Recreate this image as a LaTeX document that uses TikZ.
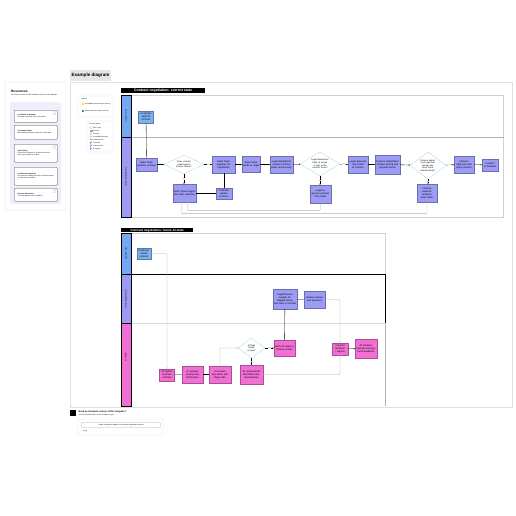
\documentclass[tikz,border=0pt]{standalone}
\usepackage{fontspec}
\setmainfont{Liberation Sans}
\usetikzlibrary{shapes.geometric,arrows.meta}

\definecolor{laneblue}{HTML}{72A9F2}
\definecolor{lanepurple}{HTML}{9D99F4}
\definecolor{lanepink}{HTML}{F36ED4}
\definecolor{nodeblue}{HTML}{7DB0F0}
\definecolor{nodepurple}{HTML}{9C9CF6}
\definecolor{nodepink}{HTML}{F26FD3}
\definecolor{dashblue}{HTML}{8FCDF2}
\definecolor{yesgreen}{HTML}{3DAA3D}
\definecolor{nored}{HTML}{D93030}
\definecolor{lavender}{HTML}{EFEFFC}
\definecolor{panelgray}{HTML}{E6E6E6}

\tikzset{
  txt/.style={font=\fontsize{3.5}{4.3}\selectfont},
  small/.style={font=\fontsize{2.4}{3}\selectfont},
  wh/.style 2 args={minimum width=#1*0.05cm, minimum height=#2*0.05cm, text width=#1*0.05cm-2pt},
  dwh/.style 2 args={minimum width=#1*0.05cm, minimum height=#2*0.05cm, text width=#1*0.024cm},
  proc/.style={rectangle, draw=#1!70!black, fill=#1, line width=0.35pt, align=center, inner sep=0.6pt, txt},
  ask/.style={diamond, draw=dashblue, dash pattern=on 1pt off 0.6pt, fill=white, line width=0.45pt,
    align=center, inner sep=0pt, font=\fontsize{3.1}{3.7}\selectfont},
  back/.style={draw=gray!60, line width=0.6pt, rounded corners=1.5pt, -{Stealth[length=1.8pt,width=1.8pt]}},
  yes/.style={small, text=yesgreen, fill=white, inner sep=0.2pt},
  no/.style={small, text=nored, fill=white, inner sep=0.2pt},
  lane/.style={draw=black, line width=0.4pt, fill=#1},
  lanelabel/.style={rotate=90, font=\fontsize{2.8}{3}\selectfont},
  tab/.style={fill=black, text=white, font=\bfseries\fontsize{5}{5.5}\selectfont, inner sep=0.9pt, anchor=south west},
  card/.style={draw=black!75, line width=0.4pt, fill=white, rounded corners=1pt, anchor=north west,
    minimum width=43*0.05cm, text width=36*0.05cm, align=left, inner sep=1.3pt, small},
  cardicon/.style={draw=gray!70, line width=0.3pt, rounded corners=0.4pt, minimum size=2.5*0.05cm, inner sep=0pt},
}

\begin{document}
\begin{tikzpicture}[x=0.05cm, y=-0.05cm]
  \useasboundingbox[fill=white] (0,0) rectangle (516,516);

  % resources
  \draw[gray!25, line width=0.4pt, rounded corners=2pt, fill=white] (5,82) rectangle (66,210);
  \node[anchor=west, font=\bfseries\fontsize{4.6}{5}\selectfont, inner sep=0pt] (restitle) at (11,91) {Resources};
  \node[anchor=north west, small, text width=2.5cm, inner sep=0pt] (ressub) at (11,94.5)
    {Use these AI tools to build a different version of this diagram};
  \fill[lavender, rounded corners=2pt] (10,102) rectangle (61,204);

  \node[card, minimum height=12*0.05cm] (card1) at (14,110)
    {\textbf{Lucidchart AI diagram}\\ Describe a process and let AI draw it};
  \node[card, minimum height=14*0.05cm] (card2) at (14,125)
    {\textbf{AI Prompt builder}\\ Write better prompts to generate a first draft};
  \node[card, minimum height=18*0.05cm] (card3) at (14,144)
    {\textbf{Data linking}\\ Connect the diagram to a data source and keep every shape up to date};
  \node[card, minimum height=18*0.05cm] (card4) at (14,167)
    {\textbf{Conditional formatting}\\ Set rules that change the look of shapes based on their data and status};
  \node[card, minimum height=13*0.05cm] (card5) at (14,188)
    {\textbf{Process automation}\\ Turn the diagram into a workflow};
  \node[cardicon] at ([shift={(-3,3)}]card1.north east) {};
  \node[cardicon] at ([shift={(-3,3)}]card3.north east) {};
  \node[cardicon] at ([shift={(-3,3)}]card5.north east) {};

  % main panel
  \draw[gray!25, line width=0.4pt, fill=white] (70,82) rectangle (512,407);
  \node[fill=panelgray, font=\bfseries\fontsize{6.5}{7}\selectfont, anchor=south west, inner xsep=2pt,
    minimum height=11*0.05cm] (maintitle) at (70,81) {Example diagram};

  % legends
  \draw[gray!25, line width=0.4pt, fill=white, rounded corners=1pt] (78,96) rectangle (113,117);
  \node[anchor=west, small, inner sep=0pt] (legtitle) at (81,99.5) {Legend};
  \fill[yellow!90!orange] (81.5,102.5) rectangle (83.5,104.5);
  \node[anchor=west, small, text width=1.3cm, inner sep=0pt] (legai) at (85,104.5) {AI-enabled process steps (future)};
  \fill[yesgreen] (81.5,109.5) rectangle (83.5,111.5);
  \node[anchor=west, small, text width=1.3cm, inner sep=0pt] (legman) at (85,111.5) {Manual process steps (current)};

  \draw[gray!25, line width=0.4pt, fill=white, rounded corners=1pt] (87,121) rectangle (113,152);
  \node[anchor=west, small, inner sep=0pt] (laytitle) at (89,124) {Process layout};
  \begin{scope}[every node/.style={anchor=west, small, inner sep=0pt}]
    \node (l1) at (93,127.5) {Start / end};
    \node (l2) at (93,130.5) {Process};
    \node (l3) at (93,133.5) {Decision};
    \node (l4) at (93,136.5) {AI-enabled decision};
    \node (l5) at (90,139.5) {Data / documents};
    \node (l6) at (93,143) {Customer};
    \node (l7) at (93,146) {Internal team};
    \node (l8) at (93,149) {AI system};
  \end{scope}
  \draw[gray!70, line width=0.3pt, rounded corners=0.6pt] (89.8,126.8) rectangle (92,128.2);
  \draw[gray!70, line width=0.3pt] (89.8,129.8) rectangle (92,131.2);
  \draw[gray!70, line width=0.3pt] (90.9,132.6) -- (92,133.5) -- (90.9,134.4) -- (89.8,133.5) -- cycle;
  \draw[gray!70, line width=0.3pt] (90.9,135.6) -- (92,136.5) -- (90.9,137.4) -- (89.8,136.5) -- cycle;
  \foreach \yy/\cc in {143/laneblue, 146/lanepurple, 149/lanepink}{
    \fill[\cc] (90.9,\yy-1.4) circle (0.5);
    \fill[\cc] (89.7,\yy-0.6) rectangle (92.1,\yy+0.2);
    \fill[\cc] (90.4,\yy+0.2) rectangle (91.4,\yy+1.3);
  }

  % current state swimlane
  \node[tab, minimum width=84*0.05cm, align=left] (curtab) at (121,93) {Contract negotiation: current state};
  \draw[gray!35, line width=0.6pt] (131,95) -- (503.5,95) -- (503.5,217.5) -- (121,217.5);
  \draw[gray!60, line width=0.5pt] (131,137) -- (503.5,137);
  \filldraw[lane=laneblue] (121,95) rectangle (131,137);
  \filldraw[lane=lanepurple] (121,137) rectangle (131,217.5);
  \node[lanelabel] (curlane1) at (126,116) {Customer side};
  \node[lanelabel] (curlane2) at (126,177) {Internal departments};

  \node[proc=nodeblue, wh={15}{12}] (c1) at (146,117) {Customer submits contract};
  \node[proc=nodepurple, wh={21}{13}] (s1) at (146.5,164.5) {Sales Team receives contract};
  \node[ask, dwh={40}{19}, aspect=2.1] (d1) at (184,164.5) {Does contract need legal or finance review?};
  \node[proc=nodepurple, wh={23}{17}] (s2) at (223.5,164.5) {Sales Team prepares for negotiation};
  \node[proc=nodepurple, wh={18}{16}] (s3) at (251,164.5) {Sales Team sends to Legal};
  \node[proc=nodepurple, wh={23}{17}] (s4) at (281.5,164.5) {Legal department reviews contract terms and security};
  \node[ask, dwh={40}{24}, aspect=1.7] (d2) at (320,164) {Legal department finds no issues or risks in the contract terms?};
  \node[proc=nodepurple, wh={20}{17}] (s5) at (358,164.5) {Legal approves and sends to Finance};
  \node[proc=nodepurple, wh={25}{19}] (s6) at (387.5,164.5) {Finance department reviews pricing and payment terms};
  \node[ask, dwh={37}{27}, aspect=1.4] (d3) at (428,165.5) {Finance department approves pricing, payment terms and discounts?};
  \node[proc=nodepurple, wh={20}{17}] (s7) at (464,164.5) {Finance approves and signs contract};
  \node[proc=nodepurple, wh={16}{12}] (s8) at (490,165) {Contract is finalized};
  \node[proc=nodepurple, wh={23}{18}] (s9) at (184.5,193) {Sales Team negotiates with customer};
  \node[proc=nodepurple, wh={16}{11}] (s10) at (224,193.5) {Customer agrees to terms};
  \node[proc=nodepurple, wh={21}{18}] (s11) at (320.5,194) {Legal requests revisions from Sales};
  \node[proc=nodepurple, wh={20}{18}] (s12) at (427,193) {Finance requests revisions from Sales};

  \begin{scope}[every edge/.style={draw, line width=0.45pt, -{Stealth[length=1.8pt,width=1.8pt]}}]
    \path (s1) edge (d1);
    \path (d1) edge node[yes] {Yes} (s2);
    \path (d1.south) edge node[no] {No} (d1.south |- s9.north);
    \path (s2) edge (s3);
    \path (s3) edge (s4);
    \path (s4) edge (d2);
    \path (d2) edge node[yes] {Yes} (s5);
    \path (d2.south) edge node[no] {No} (d2.south |- s11.north);
    \path (s5) edge (s6);
    \path (s6) edge (d3);
    \path (d3) edge node[yes] {Yes} (s7);
    \path (d3.south) edge node[no] {No} (d3.south |- s12.north);
    \path (s7) edge (s8);
  \end{scope}
  \draw[line width=0.45pt] (c1) -- (s1);
  \draw[line width=0.45pt] (s9.east) -- (s9.east -| s10.west);
  \draw[line width=0.45pt] (s10.north) -- (s10.north |- s2.south);
  \draw[back] (s11.south) -- ++(0,7.5) -| ([xshift=0.15cm]s9.south);
  \draw[back] (s12.south) -- ++(0,11.5) -| ([xshift=-0.15cm]s9.south);

  % future state swimlane
  \node[tab, minimum width=72*0.05cm, align=left, font=\bfseries\fontsize{4.4}{5}\selectfont] (futtab) at (121,232.5)
    {Contract negotiation: future AI state};
  \draw[gray!35, line width=0.6pt] (131,233) -- (385.5,233) -- (385.5,274);
  \draw[black, line width=0.6pt] (131,274) -- (385.5,274) -- (385.5,323.5);
  \draw[gray!30, line width=1pt] (131,323.5) -- (385.5,323.5);
  \draw[gray!60, line width=0.5pt] (385.5,323.5) -- (385.5,406);
  \filldraw[lane=laneblue] (121,233) rectangle (131,274);
  \filldraw[lane=lanepurple] (121,274) rectangle (131,323.5);
  \filldraw[lane=lanepink] (121,323.5) rectangle (131,406);
  \node[lanelabel] (futlane1) at (126,253.5) {Customer side};
  \node[lanelabel] (futlane2) at (126,299) {Internal departments};
  \node[lanelabel] (futlane3) at (126,357) {AI system};

  \node[proc=nodeblue, wh={14}{11}] (a1) at (144,253.5) {Customer sends contract};
  \node[proc=nodepurple, wh={24}{20}] (b1) at (285,299) {Legal/Finance reviews AI-flagged issues and risks in contract};
  \node[proc=nodepurple, wh={21}{17}] (b2) at (314.5,299.5) {Human reviews and approves};
  \node[proc=nodepink, wh={15}{12}] (p1) at (167,375) {AI system receives contract};
  \node[proc=nodepink, wh={21}{17}] (p2) at (192.5,374.5) {AI extracts contract key information};
  \node[proc=nodepink, wh={22}{17}] (p3) at (220,374.5) {AI reviews key terms and flags risks};
  \node[ask, dwh={27}{20}, aspect=1.35] (dd) at (251.5,348) {AI flags issues or risks?};
  \node[proc=nodepink, wh={21}{16}] (p4) at (284.5,348) {Alerts for legal or finance review};
  \node[proc=nodepink, wh={23}{19}] (p5) at (251.5,374.5) {AI recommends and drafts standard clauses};
  \node[proc=nodepink, wh={16}{12}] (p6) at (340,349) {Contract finalized / signed};
  \node[proc=nodepink, wh={22}{19}] (p7) at (366,348.5) {AI monitors contract and payment deadlines};

  \begin{scope}[every edge/.style={draw, line width=0.45pt, -{Stealth[length=1.8pt,width=1.8pt]}}]
    \path (dd) edge node[yes] {Yes} (p4);
    \path (dd) edge node[no] {No} (p5);
    \path (p6) edge (p7);
  \end{scope}
  \draw[line width=0.45pt] (p1) -- (p2);
  \draw[line width=0.45pt] (p2) -- (p3);
  \draw[line width=0.45pt] (p4) -- (b1);
  \draw[line width=0.45pt] (b1) -- (b2);
  \draw[back] (a1.east) -| (p1.north);
  \draw[back] (p3.north) |- (dd.west);
  \draw[back] (b2.east) -| (p6.north);
  \draw[back] (p5.east) -| (p6.south);

  % AI prompt box
  \node[fill=black, minimum size=6*0.05cm, inner sep=0pt] (aiicon) at (73,413) {};
  \node[anchor=west, font=\bfseries\fontsize{3.3}{4}\selectfont, inner sep=0pt] (aihead) at (78.5,411.5)
    {Need an AI-based version of this template?};
  \node[anchor=west, small, inner sep=0pt] (aisub) at (78.5,415) {Use the prompt below to have AI build it for you.};
  \draw[gray!30, line width=0.5pt, fill=white, rounded corners=1pt] (78,419) rectangle (163,435);
  \node[draw=gray!60, line width=0.4pt, rounded corners=1.5pt, minimum width=79*0.05cm, minimum height=5*0.05cm,
    inner sep=0pt, small] (prompt) at (121,425) {Create a swimlane diagram of a contract negotiation process};
  \node[anchor=west, small, inner sep=0pt] (copy) at (81,431) {$\cdot$ Copy};
\end{tikzpicture}
\end{document}
